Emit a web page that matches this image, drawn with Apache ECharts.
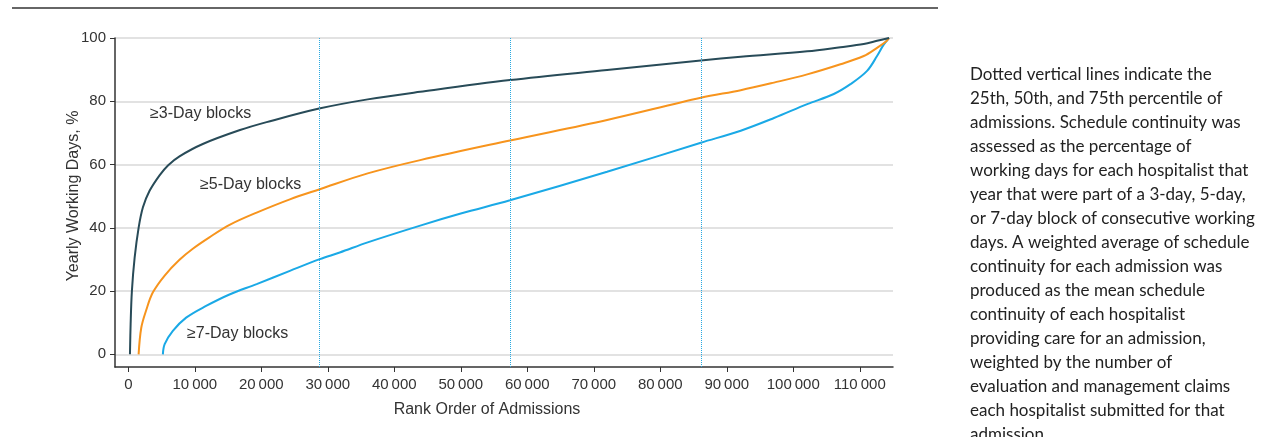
<!DOCTYPE html>
<html>
<head>
<meta charset="utf-8">
<script src="https://cdn.jsdelivr.net/npm/echarts@6/dist/echarts.min.js"></script>
<style>
  html, body { margin: 0; padding: 0; background: #fff; }
  #chart { width: 1265px; height: 437px; }
</style>
</head>
<body>
<div id="chart"></div>
<script>
// rank order of admissions vs yearly working days (%)
var blocks3 = [[250,0],[350,9.6],[540,20],[950,30.5],[1550,40],[2200,46.5],[3200,51.7],[4700,56.6],[6000,59.8],[7700,62.6],
  [11200,66.5],[16800,70.9],[20800,73.4],[28700,77.7],[36000,80.6],[43900,83],[57400,86.7],[72000,89.9],[86100,92.9],
  [92100,94.1],[102100,95.8],[107100,97.1],[110600,98.1],[112600,99.1],[114400,100]];
var blocks5 = [[1550,0],[1950,8.4],[2700,14],[3700,19.6],[5500,25],[7700,29.9],[9700,33.4],[12200,37],[15300,41],
  [19300,44.8],[24300,49],[28800,52.2],[36000,57.2],[43900,61.4],[57400,67.6],[72000,74.1],[86100,81.1],[92100,83.5],
  [97100,85.9],[102100,88.5],[107100,91.7],[110600,94.3],[112600,96.9],[114000,99],[114400,100]];
var blocks7 = [[5200,0],[5470,3.2],[6700,7.4],[8700,11.6],[11700,15.3],[15300,19],[19300,22.2],[24300,26.4],[28800,30.1],
  [31800,32.2],[36000,35.4],[43900,40.7],[50000,44.5],[57400,48.7],[72000,57.7],[86100,66.9],[92100,70.7],[97100,74.7],
  [102100,79.1],[106100,82.3],[108600,85.4],[111100,89.6],[112600,94.3],[113600,97.9],[114400,100]];
var percentiles = [28700, 57400, 86100];
var xTicks = [0,10000,20000,30000,40000,50000,60000,70000,80000,90000,100000,110000];
var yTicks = [0,20,40,60,80,100];

var note = 'Dotted vertical lines indicate the\n25th, 50th, and 75th percentile of\nadmissions. Schedule continuity was\nassessed as the percentage of\nworking days for each hospitalist that\nyear that were part of a 3-day, 5-day,\nor 7-day block of consecutive working\ndays. A weighted average of schedule\ncontinuity for each admission was\nproduced as the mean schedule\ncontinuity of each hospitalist\nproviding care for an admission,\nweighted by the number of\nevaluation and management claims\neach hospitalist submitted for that\nadmission.';

var font = 'Liberation Sans';
var chart = echarts.init(document.getElementById('chart'));

function fmt(v){
	return String(v).replace(/\B(?=(\d{3})+(?!\d))/g, '\u2009');
}

var option = {
	animation: false,
	textStyle: { fontFamily: font },
	grid: { left: 115, top: 38, right: 372, bottom: 70 },
	xAxis: {
		type: 'value',
		min: -2000,
		max: 115000,
		axisLine: { show: true, onZero: false, lineStyle: { color: '#333', width: 1.5 } },
		axisTick: { show: true, length: 5, customValues: xTicks, lineStyle: { color: '#333' } },
		axisLabel: { customValues: xTicks, formatter: fmt, fontSize: 15, color: '#333', margin: 10 },
		splitLine: { show: false }
	},
	yAxis: {
		type: 'value',
		min: -4,
		max: 100,
		axisLine: { show: true, onZero: false, lineStyle: { color: '#333', width: 1.5 } },
		axisTick: { show: true, length: 5, customValues: yTicks, lineStyle: { color: '#333' } },
		axisLabel: { customValues: yTicks, fontSize: 15, color: '#333', margin: 9 },
		splitLine: { show: true, lineStyle: { color: '#e2e2e2', width: 2 } }
	},
	series: [
		{
			name: '≥7-Day blocks', type: 'line', data: blocks7, showSymbol: false,
			smooth: 0.35,
			lineStyle: { color: '#1aa9e6', width: 2 },
			markLine: {
				silent: true, symbol: 'none', label: { show: false },
				lineStyle: { color: '#29a9e1', type: 'dotted', width: 1 },
				data: percentiles.map(function(p){ return { xAxis: p }; })
			}
		},
		{
			name: '≥5-Day blocks', type: 'line', data: blocks5, showSymbol: false,
			smooth: 0.35,
			lineStyle: { color: '#f7941d', width: 2 }
		},
		{
			name: '≥3-Day blocks', type: 'line', data: blocks3, showSymbol: false,
			smooth: 0.35,
			lineStyle: { color: '#284b58', width: 2 }
		}
	],
	graphic: [
		{ type: 'line', shape: { x1: 12, y1: 8, x2: 938, y2: 8 }, style: { stroke: '#333', lineWidth: 1.5 } },
		{ type: 'text', left: 150, top: 106, style: { text: '≥3-Day blocks', font: '16px "' + font + '"', fill: '#333' } },
		{ type: 'text', left: 200, top: 177, style: { text: '≥5-Day blocks', font: '16px "' + font + '"', fill: '#333' } },
		{ type: 'text', left: 187, top: 326, style: { text: '≥7-Day blocks', font: '16px "' + font + '"', fill: '#333' } },
		{ type: 'text', x: 487, y: 410, style: { text: 'Rank Order of Admissions', font: '16px "' + font + '"', fill: '#333', align: 'center', verticalAlign: 'middle' } },
		{ type: 'text', x: 74, y: 196, rotation: Math.PI / 2, style: { text: 'Yearly Working Days, %', font: '16px "' + font + '"', fill: '#333', align: 'center', verticalAlign: 'middle' } },
		{ type: 'text', left: 970, top: 63, style: { text: note, font: '17px Lato', fill: '#222', lineHeight: 24 } }
	]
};
chart.setOption(option);
</script>
</body>
</html>
